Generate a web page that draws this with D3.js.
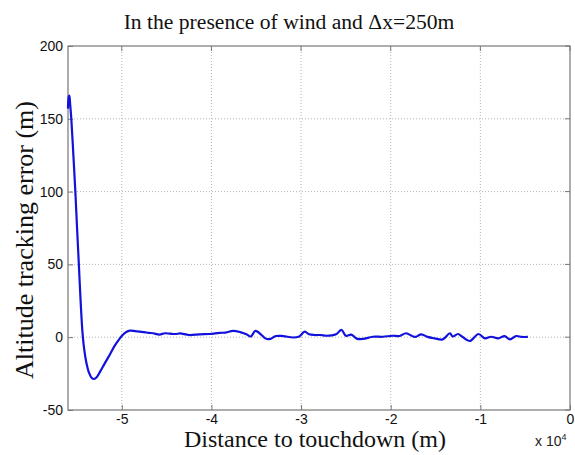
<!DOCTYPE html>
<html>
<head>
<meta charset="utf-8">
<script src="https://cdn.jsdelivr.net/npm/d3@7"></script>
<style>
  body { margin: 0; background: #fff; }
  .tick text { font-family: "Liberation Sans", Arial, sans-serif; font-size: 14px; fill: #111; }
  .label { font-family: "Liberation Serif", "Times New Roman", serif; fill: #111; }
</style>
</head>
<body>
<div id="chart"></div>
<script>
const width = 575;
const height = 455;
const margin = { top: 46, right: 5, bottom: 45, left: 68 };

// distance to touchdown (m) and altitude tracking error (m)
const distance = [
  -56000, -55920, -55850, -55760, -55630, -55400, -55180, -54990, -54790, -54570,
  -54380, -54200, -53950, -53650, -53350, -53100, -52800, -52400, -51900, -51340,
  -50800, -50300, -49900, -49500, -49100, -48500, -48000, -47500, -47000, -46500,
  -45800, -45200, -44600, -44000, -43500, -42500, -41300, -40200, -39100, -38400,
  -37600, -36800, -36100, -35600, -35100, -34400, -34000, -33500, -32800, -32000,
  -30900, -30200, -29600, -29100, -28500, -27800, -27200, -26100, -25500, -25000,
  -24400, -23800, -23100, -22000, -20900, -19800, -19000, -18300, -17300, -16600,
  -15900, -15100, -14200, -13400, -13100, -12500, -12000, -11200, -10200, -9500,
  -8800, -8000, -7300, -6700, -6000, -5400, -4700
];
const altError = [
  157, 165, 166, 160, 150, 125, 100, 75, 50, 22,
  3, -8, -17.5, -24.5, -28, -28.7, -27.5, -23.5, -18, -12,
  -6, -1.5, 1.5, 3.6, 4.5, 4.2, 3.8, 3.5, 3.0, 2.7,
  1.8, 2.7, 2.4, 2.2, 2.6, 1.5, 2.0, 2.2, 3.0, 3.2,
  4.3, 3.5, 2.0, 0.5, 4.3, 1.5, -0.8, -1.3, 0.8, 0.8,
  -0.2, 0.5, 3.8, 2.0, 1.5, 1.5, 1.0, 2.0, 5.0, 1.0,
  1.8, -1.0, -1.2, 0.3, 0.3, 1.0, 0.8, 2.7, 0.2, 2.0,
  0.2, -0.8, -1.5, 2.7, 0.5, 2.2, 0.3, -2.6, 2.2, -0.8,
  0.3, -0.8, 0.8, -1.5, 0.8, 0.2, 0.2
];
const xTicks = [-50000, -40000, -30000, -20000, -10000, 0];
const yTicks = [-50, 0, 50, 100, 150, 200];

const data = distance.map((d, i) => ({ x: d, y: altError[i] }));

const svg = d3.select('#chart')
  .append('svg')
  .attr('width', width)
  .attr('height', height);

const x = d3.scaleLinear().domain([-56000, 0]).range([margin.left, width - margin.right]);
const y = d3.scaleLinear().domain([-50, 200]).range([height - margin.bottom, margin.top]);

const x0 = x.range()[0], x1 = x.range()[1];
const y0 = y.range()[0], y1 = y.range()[1];

// grid
svg.append('g')
  .selectAll('line')
  .data(xTicks.slice(0, -1))
  .join('line')
  .attr('x1', d => x(d)).attr('x2', d => x(d))
  .attr('y1', y1).attr('y2', y0)
  .attr('stroke', '#b4b4b4').attr('stroke-width', 1).attr('stroke-dasharray', '1,2');

svg.append('g')
  .selectAll('line')
  .data(yTicks.slice(1, -1))
  .join('line')
  .attr('x1', x0).attr('x2', x1)
  .attr('y1', d => y(d)).attr('y2', d => y(d))
  .attr('stroke', '#b4b4b4').attr('stroke-width', 1).attr('stroke-dasharray', '1,2');

// axes with inward ticks, plain hyphen minus like the original
const fmt = v => String(v).replace('\u2212', '-');
const xAxis = d3.axisBottom(x).tickValues(xTicks).tickFormat(d => fmt(d / 10000))
  .tickSizeInner(-5).tickSizeOuter(0).tickPadding(4);
const yAxis = d3.axisLeft(y).tickValues(yTicks).tickFormat(fmt)
  .tickSizeInner(-5).tickSizeOuter(0).tickPadding(5);

const gx = svg.append('g')
  .attr('transform', `translate(0, ${y0})`)
  .call(xAxis);
const gy = svg.append('g')
  .attr('transform', `translate(${x0}, 0)`)
  .call(yAxis);
[gx, gy].forEach(g => {
  g.select('.domain').remove();
  g.selectAll('.tick line').attr('stroke', '#777');
});

// top/right ticks
svg.append('g')
  .selectAll('line')
  .data(xTicks)
  .join('line')
  .attr('x1', d => x(d)).attr('x2', d => x(d))
  .attr('y1', y1).attr('y2', y1 + 5)
  .attr('stroke', '#777');
svg.append('g')
  .selectAll('line')
  .data(yTicks)
  .join('line')
  .attr('x1', x1).attr('x2', x1 - 5)
  .attr('y1', d => y(d)).attr('y2', d => y(d))
  .attr('stroke', '#777');

// frame
svg.append('rect')
  .attr('x', x0).attr('y', y1)
  .attr('width', x1 - x0).attr('height', y0 - y1)
  .attr('fill', 'none').attr('stroke', '#777').attr('stroke-width', 1.2);

// the curve
const line = d3.line()
  .x(d => x(d.x))
  .y(d => y(d.y))
  .curve(d3.curveCatmullRom.alpha(0.5));

svg.append('path')
  .datum(data)
  .attr('fill', 'none')
  .attr('stroke', '#1212dc')
  .attr('stroke-width', 2.2)
  .attr('stroke-linejoin', 'round')
  .attr('d', line);

// labels
svg.append('text')
  .attr('class', 'label')
  .attr('x', 289).attr('y', 29)
  .attr('text-anchor', 'middle')
  .style('font-size', '21.6px')
  .text('In the presence of wind and \u0394x=250m');

svg.append('text')
  .attr('class', 'label')
  .attr('x', 315).attr('y', 447)
  .attr('text-anchor', 'middle')
  .style('font-size', '24px')
  .text('Distance to touchdown (m)');

svg.append('text')
  .attr('class', 'label')
  .attr('transform', 'translate(33, 240) rotate(-90)')
  .attr('text-anchor', 'middle')
  .style('font-size', '26px')
  .text('Altitude tracking error (m)');

const exp = svg.append('text')
  .attr('x', 535).attr('y', 446)
  .style('font-family', '"Liberation Sans", Arial, sans-serif')
  .style('font-size', '14px')
  .attr('fill', '#222');
exp.append('tspan').text('x 10');
exp.append('tspan').attr('dy', -6).style('font-size', '9px').text('4');
</script>
</body>
</html>
